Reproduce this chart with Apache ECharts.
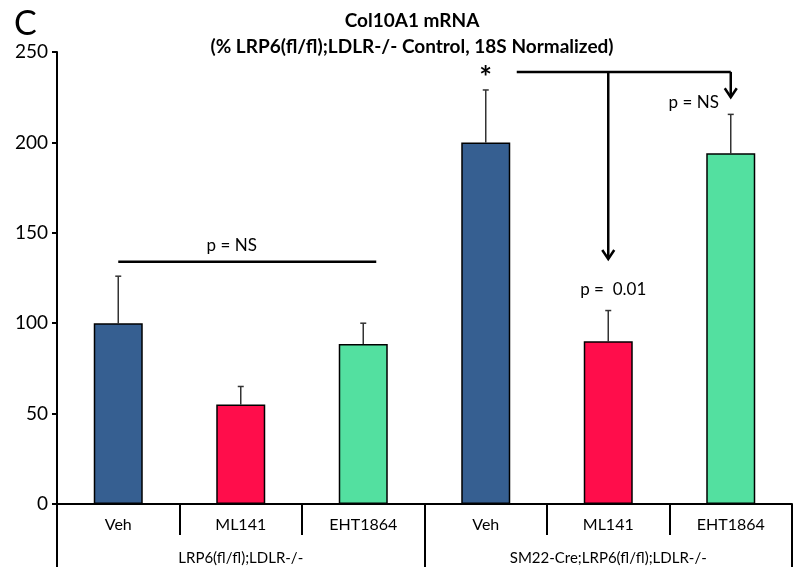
<!DOCTYPE html>
<html>
<head>
<meta charset="utf-8">
<script src="https://cdn.jsdelivr.net/npm/echarts@6/dist/echarts.min.js"></script>
<style>
  html, body { margin: 0; padding: 0; background: #fff; }
  #chart { width: 800px; height: 575px; }
</style>
</head>
<body>
<div id="chart"></div>
<script>
(function(){
	var treatments = ['Veh', 'ML141', 'EHT1864', 'Veh', 'ML141', 'EHT1864'];
	var groups = ['LRP6(fl/fl);LDLR-/-', 'SM22-Cre;LRP6(fl/fl);LDLR-/-'];
	var means = [100, 55, 88.5, 200, 90, 194];
	var errorTops = [126, 65, 100, 229, 107, 215.5];
	var barColors = ['#365F91', '#FF0D4B', '#53E0A0', '#365F91', '#FF0D4B', '#53E0A0'];
	var yTicks = [0, 50, 100, 150, 200, 250];

	var font = 'Lato, "Open Sans", sans-serif';
	var myChart = echarts.init(document.getElementById('chart'));

	// arrow head pointing down at (x, y)
	function arrowHead(x, y) {
		return {
			type: 'polyline',
			shape: { points: [[x - 6, y - 9], [x, y], [x + 6, y - 9]] },
			style: { stroke: '#000', lineWidth: 2.5, fill: null }
		};
	}

	function note(x, y, txt, size) {
		return { type: 'text', x: x, y: y,
			style: { text: txt, fontSize: size || 17, fontFamily: font, fill: '#000', align: 'center', verticalAlign: 'middle' } };
	}

	function drawNotes(params, api) {
		var c = function (i, v) { return api.coord([i, v]); };
		var kids = [];
		// left group: p = NS line
		var a = c(0, 134), b = c(2, 134);
		kids.push({ type: 'line', shape: { x1: a[0], y1: a[1], x2: b[0] + 13, y2: b[1] },
			style: { stroke: '#000', lineWidth: 2.5 } });
		var t = c(1, 143);
		kids.push(note(t[0] - 9, t[1], 'p = NS'));
		// star over SM22 Veh
		var s = c(3, 238);
		kids.push({ type: 'text', x: s[0], y: s[1] + 5,
			style: { text: '*', fontSize: 30, fontWeight: 'bold', fontFamily: font, fill: '#000', align: 'center', verticalAlign: 'middle' } });
		// bracket
		var h1 = c(3, 239), h2 = c(5, 239), m = c(4, 239);
		kids.push({ type: 'line', shape: { x1: h1[0] + 31, y1: h1[1], x2: h2[0], y2: h2[1] },
			style: { stroke: '#000', lineWidth: 2.5 } });
		var mEnd = c(4, 135.5);
		kids.push({ type: 'line', shape: { x1: m[0], y1: m[1], x2: mEnd[0], y2: mEnd[1] },
			style: { stroke: '#000', lineWidth: 2.5 } });
		kids.push(arrowHead(mEnd[0], mEnd[1]));
		var rEnd = c(5, 225);
		kids.push({ type: 'line', shape: { x1: h2[0], y1: h2[1], x2: rEnd[0], y2: rEnd[1] },
			style: { stroke: '#000', lineWidth: 2.5 } });
		kids.push(arrowHead(rEnd[0], rEnd[1]));
		// p labels
		var p1 = c(5, 222);
		kids.push(note(p1[0] - 37, p1[1], 'p = NS'));
		var p2 = c(4, 118.5);
		kids.push(note(p2[0] + 5, p2[1], 'p =  0.01'));
		return { type: 'group', children: kids };
	}

	var option = {
		backgroundColor: '#fff',
		animation: false,
		title: [
			{
				text: 'Col10A1 mRNA\n(% LRP6(fl/fl);LDLR-/- Control, 18S Normalized)',
				left: 407, top: 3, textAlign: 'center',
				textStyle: { fontFamily: font, fontSize: 19, fontWeight: 'bold', color: '#000', lineHeight: 26 }
			},
			{
				text: 'C', left: 9, top: 2,
				textStyle: { fontFamily: font, fontSize: 34, fontWeight: 'normal', color: '#000' }
			}
		],
		grid: { left: 57, right: 8, top: 52, bottom: 71 },
		xAxis: [
			{
				type: 'category',
				data: treatments,
				axisLine: { lineStyle: { color: '#000', width: 2 } },
				axisTick: { show: true, interval: 0, length: 31, lineStyle: { color: '#000', width: 2 } },
				axisLabel: { interval: 0, margin: 13, fontSize: 16, fontFamily: font, color: '#000' }
			},
			{
				type: 'category',
				position: 'bottom',
				data: groups,
				axisLine: { show: false },
				axisTick: { show: true, interval: 0, length: 63, lineStyle: { color: '#000', width: 2 } },
				axisLabel: { interval: 0, margin: 47, fontSize: 15, fontFamily: font, color: '#000' }
			}
		],
		yAxis: {
			type: 'value',
			min: yTicks[0], max: yTicks[yTicks.length - 1], interval: 50,
			splitLine: { show: false },
			axisLine: { show: true, lineStyle: { color: '#000', width: 2 } },
			axisTick: { show: true, length: 5, lineStyle: { color: '#000', width: 2 } },
			axisLabel: { fontSize: 19, fontFamily: font, color: '#000', margin: 9 }
		},
		series: [
			{
				type: 'bar',
				barWidth: '40%',
				z: 2,
				data: means.map(function (v, i) {
					return { value: v, itemStyle: { color: barColors[i], borderColor: '#000', borderWidth: 1.5 } };
				})
			},
			{
				type: 'custom',
				z: 1,
				data: means.map(function (v, i) { return [i, v, errorTops[i]]; }),
				renderItem: function (params, api) {
					var lo = api.coord([api.value(0), api.value(1)]);
					var hi = api.coord([api.value(0), api.value(2)]);
					return {
						type: 'group',
						children: [
							{ type: 'line', shape: { x1: lo[0], y1: lo[1], x2: hi[0], y2: hi[1] },
								style: { stroke: '#333', lineWidth: 1.5 } },
							{ type: 'line', shape: { x1: hi[0] - 3, y1: hi[1], x2: hi[0] + 3, y2: hi[1] },
								style: { stroke: '#333', lineWidth: 1.5 } }
						]
					};
				}
			},
			{
				type: 'custom',
				z: 3,
				data: [[0, 0]],
				renderItem: drawNotes
			}
		]
	};

	myChart.setOption(option);
})();
</script>
</body>
</html>
